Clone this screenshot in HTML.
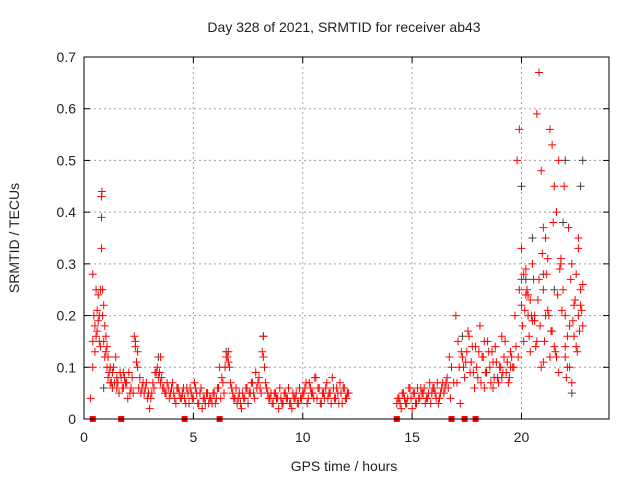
<!DOCTYPE html>
<html><head><meta charset="utf-8"><style>
body{margin:0;background:#fff;}
svg text{font-family:"Liberation Sans",sans-serif;font-size:14px;fill:#222;}
</style></head><body>
<svg id="chart" width="640" height="480">
<text x="344" y="32" text-anchor="middle">Day 328 of 2021, SRMTID for receiver ab43</text>
<text x="344" y="471" text-anchor="middle">GPS time / hours</text>
<text transform="translate(19,238) rotate(-90)" text-anchor="middle">SRMTID / TECUs</text>
<g id="grid"></g><g id="ticks"></g><g id="gray"></g><g id="red"></g><g id="sq"></g>
<rect x="84" y="57" width="525" height="362" fill="none" stroke="#000" stroke-width="1"/>
</svg>
<script>
const xTicks=[0,5,10,15,20];
const yTicks=[0,0.1,0.2,0.3,0.4,0.5,0.6,0.7];
const yTickLabels=["0","0.1","0.2","0.3","0.4","0.5","0.6","0.7"];
const redTimes=[0.3,0.4,0.4,0.4,0.45,0.5,0.5,0.55,0.6,0.6,0.65,0.7,0.7,0.75,0.8,0.8,0.8,0.82,0.85,0.9,0.9,0.95,1.0,1.0,1.05,1.1,1.1,1.2,1.2,1.3,1.3,1.4,1.5,1.5,1.6,1.7,1.8,1.8,1.9,2.0,2.1,2.2,2.3,2.35,2.4,2.45,2.5,2.6,2.7,2.8,2.9,3.0,3.1,3.2,3.3,3.4,3.5,3.5,3.6,3.7,3.8,3.9,4.0,4.1,4.2,4.3,4.4,4.5,4.6,4.7,4.8,4.9,5.0,5.1,5.2,5.3,5.4,5.5,5.6,5.7,5.8,5.9,6.0,6.1,6.2,6.3,6.4,6.5,6.6,6.6,6.7,6.8,6.9,7.0,7.1,7.2,7.3,7.4,7.5,7.6,7.7,7.8,7.9,8.0,8.1,8.2,8.2,8.3,8.4,8.5,8.6,8.7,8.8,8.9,9.0,9.1,9.2,9.3,9.4,9.5,9.6,9.7,9.8,9.9,10.0,10.1,10.2,10.3,10.4,10.5,10.6,10.7,10.8,10.9,11.0,11.1,11.2,11.3,11.4,11.5,11.6,11.7,11.8,11.9,12.0,12.1,14.3,14.4,14.5,14.6,14.7,14.8,14.9,15.0,15.1,15.2,15.3,15.4,15.5,15.6,15.7,15.8,15.9,16.0,16.1,16.2,16.3,16.4,16.5,16.6,16.7,16.8,16.9,17.0,17.1,17.2,17.3,17.35,17.4,17.5,17.6,17.7,17.8,17.9,18.0,18.1,18.2,18.3,18.4,18.5,18.6,18.7,18.8,18.9,19.0,19.1,19.2,19.3,19.4,19.5,19.6,19.7,19.8,19.9,20.0,20.0,20.0,20.05,20.1,20.1,20.2,20.3,20.4,20.5,20.6,20.7,20.8,20.9,21.0,21.0,21.0,21.05,21.1,21.1,21.2,21.3,21.4,21.5,21.6,21.7,21.8,21.9,22.0,22.0,22.0,22.05,22.1,22.2,22.3,22.4,22.5,22.6,22.6,22.7,22.7,22.8,22.8,20.2,20.4,20.6,20.8,21.2,21.4,21.6,21.8,22.2,22.4,22.6,20.3,20.7,21.3,21.7,22.3,20.5,20.9,21.5,22.1,22.5,19.9,19.5,19.1,18.7,18.3];
const redValues=[0.04,0.1,0.15,0.28,0.2,0.18,0.13,0.25,0.17,0.21,0.24,0.15,0.2,0.25,0.33,0.39,0.43,0.44,0.25,0.22,0.15,0.12,0.16,0.13,0.1,0.08,0.12,0.1,0.07,0.06,0.09,0.07,0.08,0.06,0.05,0.08,0.09,0.06,0.07,0.04,0.05,0.08,0.16,0.14,0.11,0.13,0.06,0.05,0.07,0.06,0.04,0.02,0.05,0.06,0.09,0.08,0.12,0.07,0.06,0.05,0.07,0.04,0.06,0.05,0.03,0.06,0.04,0.05,0.04,0.06,0.03,0.05,0.04,0.06,0.03,0.05,0.02,0.04,0.05,0.03,0.04,0.05,0.03,0.06,0.1,0.08,0.05,0.12,0.11,0.13,0.07,0.05,0.04,0.03,0.05,0.02,0.04,0.06,0.03,0.05,0.07,0.04,0.06,0.08,0.05,0.16,0.12,0.07,0.05,0.04,0.03,0.05,0.04,0.02,0.04,0.03,0.05,0.04,0.03,0.02,0.04,0.05,0.03,0.04,0.05,0.06,0.03,0.07,0.05,0.04,0.08,0.06,0.03,0.05,0.04,0.07,0.05,0.03,0.06,0.04,0.05,0.07,0.03,0.06,0.04,0.05,0.03,0.04,0.02,0.05,0.03,0.04,0.06,0.02,0.05,0.03,0.04,0.06,0.05,0.03,0.04,0.07,0.05,0.06,0.04,0.03,0.05,0.07,0.06,0.08,0.12,0.1,0.07,0.2,0.15,0.03,0.12,0.1,0.08,0.13,0.16,0.11,0.09,0.14,0.08,0.18,0.12,0.06,0.09,0.13,0.07,0.11,0.14,0.08,0.1,0.16,0.12,0.09,0.07,0.13,0.1,0.2,0.5,0.56,0.33,0.27,0.22,0.18,0.28,0.15,0.24,0.2,0.13,0.3,0.19,0.59,0.67,0.48,0.37,0.25,0.11,0.15,0.2,0.35,0.31,0.56,0.53,0.45,0.4,0.5,0.3,0.25,0.2,0.14,0.12,0.08,0.1,0.18,0.3,0.22,0.14,0.2,0.33,0.25,0.22,0.26,0.18,0.29,0.23,0.2,0.27,0.21,0.17,0.12,0.31,0.1,0.16,0.35,0.24,0.15,0.12,0.09,0.07,0.19,0.1,0.14,0.16,0.28,0.25,0.1,0.08,0.06,0.15,0.12];
const extraTimes=[0.55,0.65,0.75,0.85,0.95,1.05,1.15,1.25,1.35,1.45,1.55,1.65,1.75,1.85,1.95,2.05,2.15,2.25,2.35,2.45,2.55,2.65,2.75,2.85,2.95,3.05,3.15,3.25,3.35,3.45,3.55,3.65,3.75,3.85,3.95,4.05,4.15,4.25,4.35,4.45,4.55,4.65,4.75,4.85,4.95,5.05,5.15,5.25,5.35,5.45,5.55,5.65,5.75,5.85,5.95,6.05,6.15,6.25,6.35,6.45,6.55,6.65,6.75,6.85,6.95,7.05,7.15,7.25,7.35,7.45,7.55,7.65,7.75,7.85,7.95,8.05,8.15,8.25,8.35,8.45,8.55,8.65,8.75,8.85,8.95,9.05,9.15,9.25,9.35,9.45,9.55,9.65,9.75,9.85,9.95,10.05,10.15,10.25,10.35,10.45,10.55,10.65,10.75,10.85,10.95,11.05,11.15,11.25,11.35,11.45,11.55,11.65,11.75,11.85,11.95,12.05,14.35,14.45,14.55,14.65,14.75,14.85,14.95,15.05,15.15,15.25,15.35,15.45,15.55,15.65,15.75,15.85,15.95,16.05,16.15,16.25,16.35,16.45,16.55,16.65,16.75,17.05,17.15,17.25,17.45,17.55,17.65,17.75,17.85,17.95,18.05,18.15,18.25,18.35,18.45,18.55,18.65,18.75,18.85,18.95,19.05,19.15,19.25,19.35,19.45,19.55,19.65,19.75,19.85,20.15,20.25,20.35,20.45,20.55,20.65,20.75,20.85,20.95,21.15,21.25,21.35,21.45,21.55,21.65,21.75,21.85,21.95,22.15,22.25,22.35,22.45,22.55,22.65,22.75];
const extraValues=[0.16,0.19,0.14,0.2,0.18,0.14,0.09,0.07,0.1,0.12,0.07,0.09,0.06,0.08,0.07,0.09,0.06,0.05,0.15,0.1,0.08,0.06,0.05,0.07,0.05,0.04,0.07,0.09,0.1,0.09,0.08,0.06,0.05,0.06,0.05,0.07,0.04,0.06,0.05,0.04,0.06,0.03,0.05,0.06,0.04,0.07,0.05,0.03,0.06,0.04,0.03,0.05,0.04,0.03,0.05,0.04,0.06,0.04,0.07,0.1,0.12,0.1,0.06,0.04,0.06,0.04,0.03,0.05,0.04,0.06,0.05,0.07,0.05,0.09,0.07,0.06,0.13,0.1,0.06,0.04,0.05,0.03,0.05,0.04,0.06,0.03,0.05,0.04,0.06,0.03,0.05,0.04,0.03,0.06,0.04,0.05,0.07,0.04,0.06,0.05,0.08,0.04,0.06,0.03,0.05,0.06,0.04,0.05,0.08,0.04,0.06,0.03,0.05,0.06,0.04,0.05,0.04,0.03,0.05,0.04,0.03,0.06,0.04,0.05,0.03,0.06,0.04,0.05,0.06,0.04,0.05,0.03,0.06,0.05,0.07,0.04,0.06,0.05,0.07,0.06,0.04,0.07,0.1,0.13,0.11,0.17,0.09,0.14,0.06,0.1,0.13,0.07,0.12,0.09,0.15,0.1,0.13,0.08,0.11,0.07,0.1,0.09,0.15,0.11,0.08,0.12,0.1,0.14,0.12,0.21,0.25,0.16,0.2,0.27,0.14,0.23,0.18,0.32,0.28,0.2,0.17,0.38,0.13,0.24,0.29,0.21,0.45,0.37,0.27,0.19,0.23,0.13,0.17,0.21,0.2];
const grayTimes=[0.9,3.4,6.5,8.2,17.3,20.0,20.5,21.0,21.5,22.0,22.3,22.8,22.7,21.9,20.2];
const grayValues=[0.06,0.12,0.13,0.16,0.16,0.45,0.35,0.28,0.25,0.5,0.05,0.5,0.45,0.38,0.27];
const zeroTimes=[0.4,1.7,4.6,6.2,14.3,16.8,17.4,17.9];
const X=t=>84+t*(525/24), Y=v=>419-v*(362/0.7);
const NS="http://www.w3.org/2000/svg";
function mk(tag,parent,attrs){const e=document.createElementNS(NS,tag);for(const k in attrs)e.setAttribute(k,attrs[k]);parent.appendChild(e);return e;}
const grid=document.getElementById('grid'),ticks=document.getElementById('ticks');
xTicks.forEach(t=>{
 if(t>0){const g=mk('line',grid,{x1:X(t),x2:X(t),y1:57,y2:419,stroke:'#a0a0a0','stroke-dasharray':'2,3'});
 
 }
 mk('line',ticks,{x1:X(t),x2:X(t),y1:419,y2:413,stroke:'#000'});
 mk('line',ticks,{x1:X(t),x2:X(t),y1:57,y2:63,stroke:'#000'});
 const l=mk('text',ticks,{x:X(t),y:442,'text-anchor':'middle'});l.textContent=t;
 
 
});
yTicks.forEach((v,i)=>{
 if(v>0&&v<0.7){const g=mk('line',grid,{x1:84,x2:609,y1:Y(v),y2:Y(v),stroke:'#a0a0a0','stroke-dasharray':'2,3'});
 
 }
 mk('line',ticks,{x1:84,x2:90,y1:Y(v),y2:Y(v),stroke:'#000'});
 mk('line',ticks,{x1:609,x2:603,y1:Y(v),y2:Y(v),stroke:'#000'});
 const l=mk('text',ticks,{x:76,y:Y(v)+5,'text-anchor':'end'});l.textContent=yTickLabels[i];
 
 
});
function plus(parent,t,v,c,name){
 const x=X(t),y=Y(v);
 const p=mk('path',parent,{d:`M${x-4},${y}h8M${x},${y-4}v8`,stroke:c,'stroke-width':1,fill:'none'});
 
 
}
grayTimes.forEach((t,i)=>plus(document.getElementById('gray'),t,grayValues[i],'#404040','gray-point'));
redTimes.forEach((t,i)=>plus(document.getElementById('red'),t,redValues[i],'#ff0000','red-point'));
extraTimes.forEach((t,i)=>plus(document.getElementById('red'),t,extraValues[i],'#ff0000','red-point'));
zeroTimes.forEach(t=>{
 const r=mk('rect',document.getElementById('sq'),{x:X(t)-3,y:416,width:6,height:6,fill:'#ff0000'});
 
 
});
</script>
</body></html>
